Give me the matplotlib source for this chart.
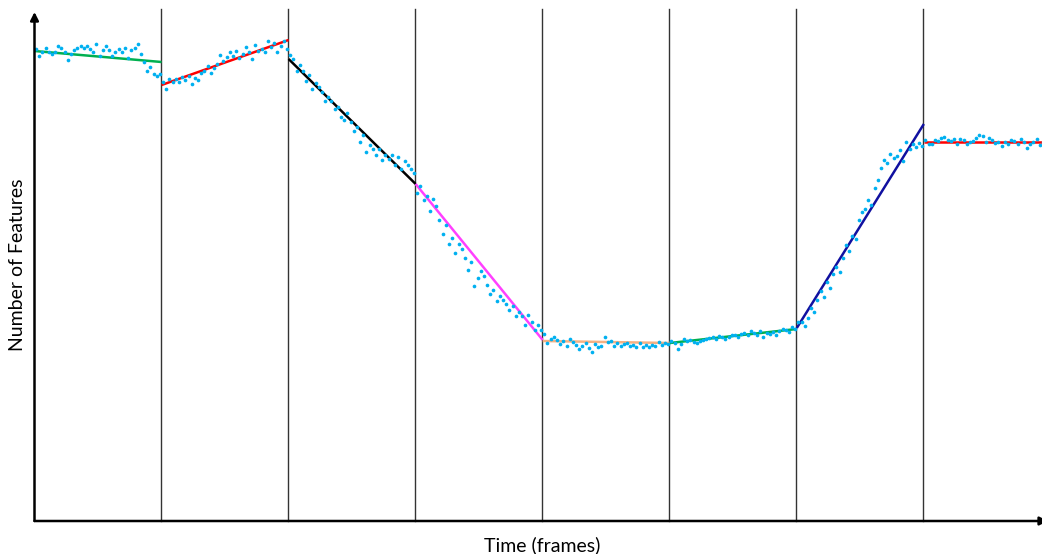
"""
Piecewise linear fit of feature count over time.

Produces out.png: feature counts per frame (dots), one fitted line per
40-frame window, and vertical separators between the windows.
"""

import numpy as np
import matplotlib.pyplot as plt

# ── Data ────────────────────────────────────────────────────────────────────
window_len = 40
boundaries = [40, 80, 120, 160, 200, 240, 280]

seg1 = [472, 465, 469, 473, 469, 467, 469, 475, 473, 469, 461, 467, 471, 473,
        475, 473, 475, 472, 469, 477, 465, 471, 475, 471, 465, 469, 472, 469,
        473, 463, 471, 473, 477, 467, 459, 450, 454, 447, 445, 447]
seg2 = [439, 432, 442, 439, 442, 439, 444, 441, 445, 437, 443, 441, 448, 450,
        455, 448, 453, 457, 466, 460, 464, 469, 465, 470, 463, 467, 474, 469,
        462, 476, 470, 472, 469, 480, 474, 478, 469, 475, 480, 472]
seg3 = [466, 462, 450, 456, 450, 440, 446, 432, 438, 434, 429, 420, 424, 420,
        412, 414, 404, 401, 408, 399, 390, 394, 379, 386, 369, 376, 372, 366,
        372, 361, 366, 362, 366, 356, 364, 352, 360, 356, 352, 348]
seg4 = [328, 335, 321, 325, 310, 322, 315, 301, 287, 296, 277, 283, 268, 277,
        272, 263, 251, 259, 235, 243, 250, 245, 236, 227, 231, 220, 225, 221,
        217, 211, 215, 205, 209, 205, 196, 206, 199, 191, 196, 191]
seg5 = [187, 178, 182, 184, 181, 177, 180, 175, 182, 179, 176, 172, 175, 178,
        173, 169, 177, 174, 175, 184, 179, 180, 175, 178, 175, 177, 178, 175,
        176, 174, 178, 174, 176, 174, 176, 175, 179, 176, 178, 177]
seg6 = [180, 178, 172, 177, 182, 180, 181, 179, 178, 180, 181, 182, 183, 184,
        182, 185, 184, 182, 184, 186, 186, 184, 187, 188, 186, 190, 188, 186,
        190, 184, 188, 187, 189, 186, 190, 192, 191, 189, 194, 192]
seg7 = [199, 199, 195, 203, 213, 209, 221, 230, 224, 239, 233, 247, 254, 249,
        263, 276, 270, 285, 282, 301, 309, 312, 321, 316, 333, 341, 353, 361,
        358, 367, 363, 365, 371, 360, 379, 372, 377, 374, 378, 375]
seg8 = [381, 377, 377, 381, 380, 383, 384, 381, 380, 382, 377, 382, 381, 377,
        379, 380, 383, 386, 385, 379, 383, 381, 378, 379, 375, 379, 377, 381,
        380, 377, 382, 379, 373, 377, 379, 382, 376, 379]
segments = [seg1, seg2, seg3, seg4, seg5, seg6, seg7, seg8]

# fitted line per window: value at window start / window end
fit_start = [470, 436, 462, 337, 180, 178, 193, 379]
fit_end = [459, 481, 337, 181, 178, 192, 397, 379]
fit_colors = ["#00B050", "#FF0000", "#000000", "#FF40FF",
              "#F4B183", "#00B050", "#1010A0", "#FF0000"]

x_max = 317.2
y_max = 509


def main() -> None:
    plt.rcParams["font.family"] = ["Lato", "DejaVu Sans"]

    fig = plt.figure(figsize=(10.42, 5.54), dpi=100)
    ax = fig.add_axes([34.5 / 1042, 33 / 554, 1 - 34.5 / 1042, 509 / 554])

    # ── Window separators ────────────────────────────────────────────────────
    for b in boundaries:
        ax.axvline(b - 0.3, ymin=0, ymax=1.005, color="#333333", lw=1.0,
                   zorder=1, clip_on=False)

    # ── Fitted lines ─────────────────────────────────────────────────────────
    for k, (y0, y1, c) in enumerate(zip(fit_start, fit_end, fit_colors)):
        x0 = k * window_len
        ax.plot([x0, x0 + window_len], [y0, y1], color=c, lw=1.8,
                zorder=2, solid_capstyle="butt")

    # ── Feature counts per frame ─────────────────────────────────────────────
    for k, seg in enumerate(segments):
        xs = k * window_len + np.arange(len(seg)) + 0.5
        ax.scatter(xs, seg, s=7, color="#00B0F0", linewidths=0, zorder=3)

    ax.set_xlim(0, x_max)
    ax.set_ylim(0, y_max)

    # ── Axes with arrow heads ────────────────────────────────────────────────
    for side in ("top", "right", "left", "bottom"):
        ax.spines[side].set_visible(False)
    ax.annotate("", xy=(0, 1.0), xytext=(0, 0), xycoords="axes fraction",
                arrowprops=dict(arrowstyle="-|>", color="black", lw=1.8,
                                mutation_scale=12, shrinkA=0, shrinkB=0),
                annotation_clip=False)
    ax.annotate("", xy=(1.006, 0), xytext=(0, 0), xycoords="axes fraction",
                arrowprops=dict(arrowstyle="-|>", color="black", lw=1.8,
                                mutation_scale=12, shrinkA=0, shrinkB=0),
                annotation_clip=False)
    ax.set_xticks([])
    ax.set_yticks([])

    fig.text(542 / 1042, 1 - 545 / 554, "Time (frames)", ha="center",
             va="center", fontsize=14)
    fig.text(18 / 1042, 1 - 265 / 554, "Number of Features", ha="center",
             va="center", rotation=90, fontsize=14)

    fig.savefig("out.png", dpi=100)
    plt.close(fig)


if __name__ == "__main__":
    main()
